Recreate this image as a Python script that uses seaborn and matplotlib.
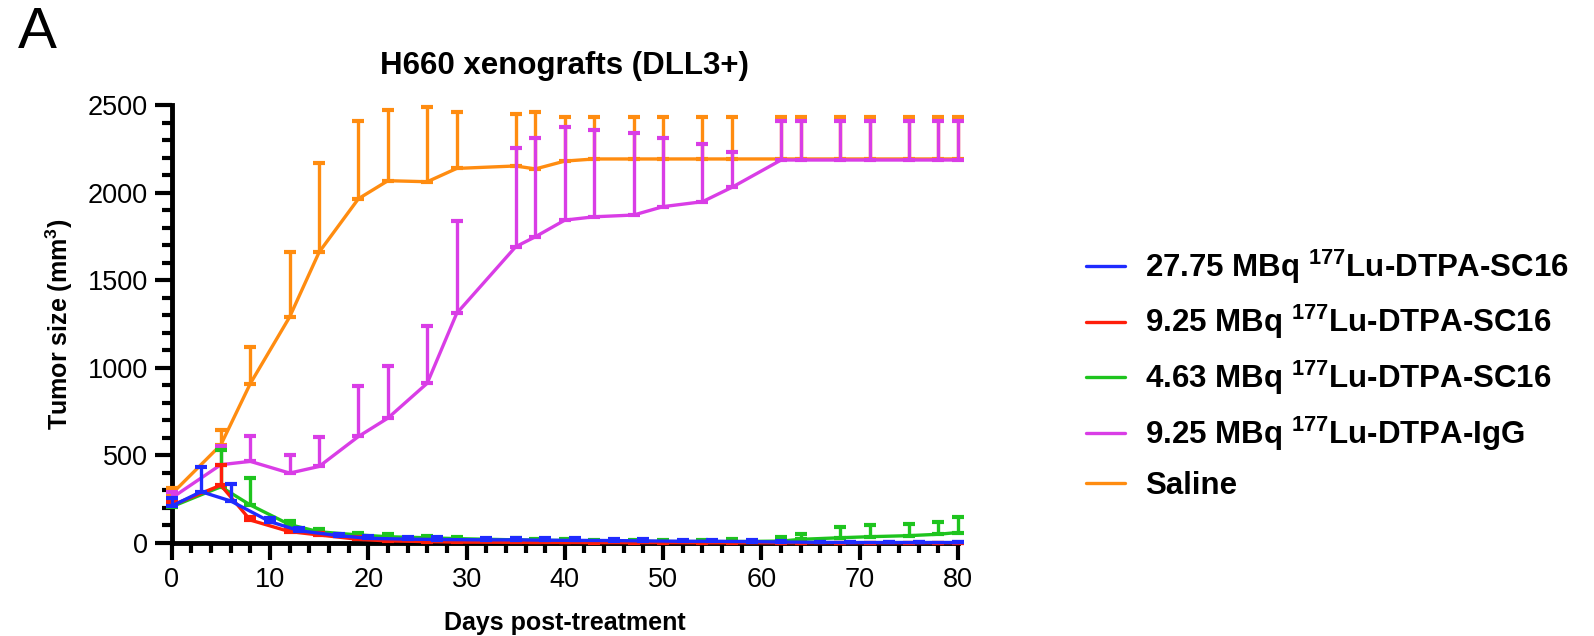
import matplotlib
matplotlib.use("Agg")
import matplotlib.pyplot as plt
import numpy as np
import pandas as pd
import seaborn as sns

# days measured per group (27.75 MBq group on its own schedule)
days_main = [0, 5, 8, 12, 15, 19, 22, 26, 29, 35, 37, 40, 43, 47, 50, 54, 57, 62, 64, 68, 71, 75, 78, 80]
days_high = [0, 3, 6, 10, 13, 17, 20, 24, 27, 32, 35, 38, 41, 45, 48, 52, 55, 59, 62, 66, 69, 73, 76, 80]

# mean tumour size (mm3) and upper end of error bar
sc16_2775_mean = [211, 293, 240, 122, 70, 42, 27, 22, 20, 18, 18, 16, 15, 14, 12, 10, 10, 8, 6, 4, 3, 3, 3, 3]
sc16_2775_top = [257, 432, 337, 141, 85, 52, 42, 36, 34, 30, 30, 28, 26, 24, 22, 20, 18, 15, 12, 8, 5, 4, 4, 4]

sc16_925_mean = [215, 330, 131, 65, 46, 21, 12, 8, 5, 4, 3, 3, 2, 2, 2, 1, 1, 1, 1, 1, 1, 1, 1, 1]
sc16_925_top = [240, 445, 150, 80, 58, 35, 20, 15, 10, 8, 6, 5, 4, 4, 3, 3, 3, 2, 2, 2, 2, 2, 2, 2]

sc16_463_mean = [207, 321, 217, 105, 64, 46, 36, 30, 25, 18, 16, 14, 12, 10, 8, 8, 8, 11, 21, 30, 36, 42, 50, 60]
sc16_463_top = [230, 531, 369, 125, 80, 58, 50, 42, 36, 28, 25, 22, 20, 18, 16, 16, 21, 36, 50, 90, 103, 108, 122, 147]

igg_mean = [257, 447, 466, 399, 437, 608, 713, 912, 1311, 1691, 1748, 1843, 1862, 1872, 1920, 1948, 2030,
            2186, 2186, 2186, 2186, 2186, 2186, 2186]
igg_top = [291, 555, 612, 500, 603, 899, 1013, 1239, 1840, 2256, 2313, 2372, 2357, 2342, 2310, 2275, 2230,
           2409, 2409, 2409, 2409, 2409, 2409, 2409]

saline_mean = [280, 560, 910, 1290, 1660, 1965, 2068, 2062, 2138, 2152, 2135, 2180, 2192, 2192, 2192, 2192, 2192,
               2192, 2192, 2192, 2192, 2192, 2192, 2192]
saline_top = [313, 646, 1121, 1659, 2167, 2410, 2471, 2487, 2458, 2447, 2458, 2433, 2433, 2433, 2433, 2433, 2433,
              2433, 2433, 2433, 2433, 2433, 2433, 2433]

labels = [r"27.75 MBq $^{\mathbf{177}}$Lu-DTPA-SC16",
          r"9.25 MBq $^{\mathbf{177}}$Lu-DTPA-SC16",
          r"4.63 MBq $^{\mathbf{177}}$Lu-DTPA-SC16",
          r"9.25 MBq $^{\mathbf{177}}$Lu-DTPA-IgG",
          "Saline"]
colors = ["#1f2bff", "#ff1e0a", "#1ec41e", "#d93de6", "#ff8c10"]
groups = [(days_high, sc16_2775_mean, sc16_2775_top),
          (days_main, sc16_925_mean, sc16_925_top),
          (days_main, sc16_463_mean, sc16_463_top),
          (days_main, igg_mean, igg_top),
          (days_main, saline_mean, saline_top)]

rows = []
for lab, (d, m, t) in zip(labels, groups):
    for x, y, top in zip(d, m, t):
        rows.append({"day": x, "size": y, "err": top - y, "group": lab})
df = pd.DataFrame(rows)

sns.set_style("ticks")
plt.rcParams["font.family"] = ["Liberation Sans", "DejaVu Sans"]
plt.rcParams["mathtext.fontset"] = "custom"
plt.rcParams["mathtext.rm"] = "Liberation Sans"
plt.rcParams["mathtext.bf"] = "Liberation Sans:bold"

fig = plt.figure(figsize=(15.94, 6.36), dpi=100)
ax = fig.add_axes([0.1077, 0.1462, 0.4933, 0.6887])

lw = 2.4
# draw saline first so the treated groups sit on top, like the original
for lab, col in list(zip(labels, colors))[::-1]:
    sub = df[df.group == lab]
    ax.errorbar(sub.day, sub["size"], yerr=[np.zeros(len(sub)), sub.err], fmt="none",
                ecolor=col, elinewidth=lw, capsize=4.5, capthick=3, clip_on=False, zorder=3)
    sns.lineplot(data=sub, x="day", y="size", color=col, lw=lw, ax=ax, label=lab,
                 clip_on=False, zorder=3)

ax.set_xlim(0, 80)
ax.set_ylim(0, 2500)
ax.set_xticks(range(0, 81, 10))
ax.set_xticks(range(0, 81, 2), minor=True)
ax.set_yticks(range(0, 2501, 500))
ax.set_yticks(range(0, 2501, 100), minor=True)
ax.tick_params(which="major", length=12, width=3, labelsize=19.5, pad=5, color="black", labelcolor="black")
ax.tick_params(which="minor", length=7, width=3, color="black")
for s in ["left", "bottom"]:
    ax.spines[s].set_linewidth(3.5)
    ax.spines[s].set_color("black")
sns.despine(ax=ax)

ax.set_xlabel("Days post-treatment", fontsize=18, fontweight="bold", labelpad=13, color="black")
ax.set_ylabel(r"Tumor size (mm$^{\mathbf{3}}$)", fontsize=18, fontweight="bold", labelpad=9, color="black")
ax.set_title("H660 xenografts (DLL3+)", fontsize=22.5, fontweight="bold", pad=22, color="black")

handles, labs = ax.get_legend_handles_labels()
order = [labs.index(l) for l in labels]
leg = ax.legend([handles[i] for i in order], [labs[i] for i in order],
                loc="center left", bbox_to_anchor=(0.681, 0.412), bbox_transform=fig.transFigure,
                frameon=False, prop={"size": 22.5, "weight": "bold"}, handlelength=1.25,
                handletextpad=0.65, labelspacing=0.56, borderpad=0, borderaxespad=0)
for h in leg.get_lines():
    h.set_linewidth(lw)
for t in leg.get_texts():
    t.set_color("black")

fig.text(0.011, 0.925, "A", fontsize=42, color="black")

fig.savefig("out.png", dpi=100)
